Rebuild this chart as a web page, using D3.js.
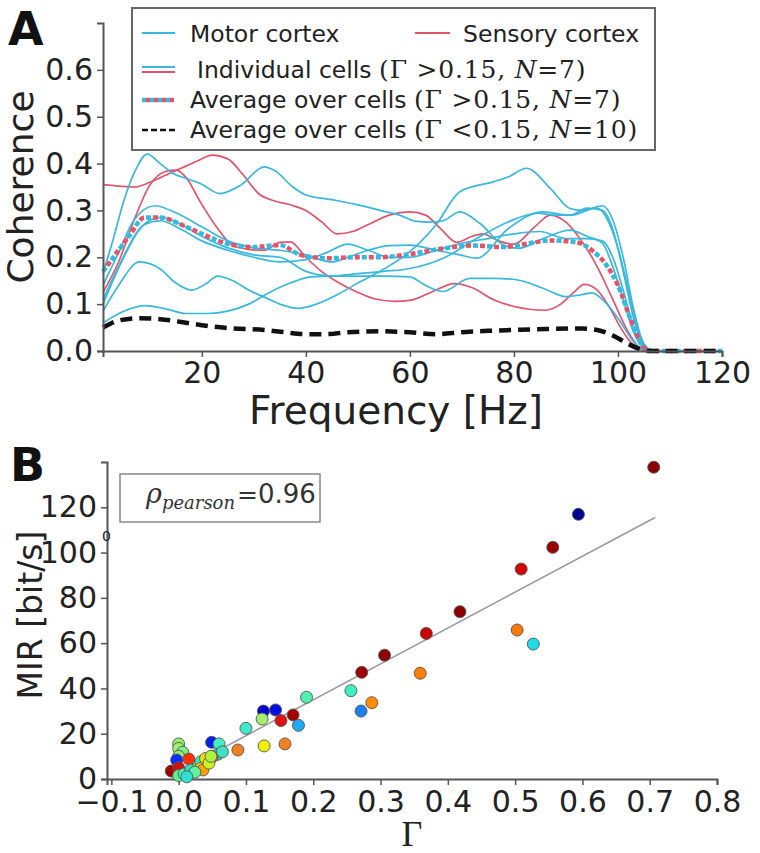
<!DOCTYPE html>
<html><head><meta charset="utf-8">
<script src="https://cdn.jsdelivr.net/npm/d3@7"></script>
<style>body{margin:0;background:#fff}svg{display:block}</style>
</head><body>
<svg id="chart" width="760" height="853"></svg>
<script>
// ---------- Panel A data: coherence vs frequency ([Hz, coherence]) ----------
const freqTicks = [20, 40, 60, 80, 100, 120];
const cohTicks = [0.0, 0.1, 0.2, 0.3, 0.4, 0.5, 0.6];

const motorCell1 = [[1,0.165],[3,0.24],[5,0.32],[7,0.38],[9.5,0.42],[12,0.4],[14.5,0.379],[17,0.368],[19.6,0.358],[23.5,0.336],[27.5,0.354],[32,0.393],[34,0.385],[37.5,0.35],[40,0.333],[45,0.323],[50,0.312],[55,0.298],[58,0.29],[61,0.277],[64,0.275],[66.4,0.278],[69.6,0.297],[73.5,0.272],[78,0.226],[81,0.219],[85.6,0.24],[90.8,0.258],[94,0.245],[97,0.23],[99,0.18],[101,0.11],[103,0.04],[105,0.005],[107,0],[120,0]];
const motorCell2 = [[1,0.085],[4,0.14],[8,0.19],[12,0.175],[15,0.145],[18,0.13],[21,0.145],[23,0.16],[26,0.15],[29,0.13],[32,0.115],[35,0.1],[38.5,0.091],[42,0.1],[46,0.12],[50,0.145],[55,0.175],[60,0.212],[65,0.269],[69.6,0.34],[76,0.361],[79,0.372],[82.4,0.39],[87,0.347],[90.8,0.304],[93,0.3],[96,0.305],[98,0.28],[100,0.22],[102,0.13],[104,0.04],[106,0.003],[108,0],[120,0]];
const motorCell3 = [[1,0.14],[4,0.21],[7,0.28],[11,0.31],[15,0.295],[20,0.265],[25,0.235],[30,0.22],[35,0.215],[40,0.205],[45,0.19],[48,0.2],[52,0.215],[56,0.225],[60,0.226],[65,0.215],[69.6,0.205],[72.8,0.198],[79,0.262],[85.6,0.297],[90.8,0.29],[94,0.305],[97,0.3],[99,0.26],[101,0.17],[103,0.07],[105,0.01],[107,0],[120,0]];
const motorCell4 = [[1,0.11],[4,0.18],[8,0.26],[12,0.285],[16,0.27],[20,0.245],[25,0.22],[30,0.205],[35,0.2],[40,0.17],[45,0.16],[50,0.165],[55,0.17],[60,0.176],[66.4,0.198],[72.8,0.24],[79,0.276],[84.4,0.294],[88,0.29],[91,0.29],[94,0.3],[97,0.31],[99,0.28],[101,0.2],[103,0.09],[105,0.015],[107,0],[120,0]];
const motorCell5 = [[1,0.1],[5,0.2],[9,0.27],[12,0.278],[16,0.26],[20,0.235],[25,0.215],[30,0.2],[35,0.19],[40,0.195],[44,0.21],[48,0.228],[52,0.215],[56,0.2],[60,0.2],[65,0.215],[70,0.23],[75,0.24],[80,0.25],[85,0.255],[90,0.24],[94,0.24],[97,0.235],[99,0.2],[101,0.13],[103,0.05],[105,0.008],[107,0],[120,0]];
const motorCell6 = [[1,0.06],[5,0.085],[9,0.097],[13,0.09],[17,0.08],[21,0.08],[25,0.085],[29,0.1],[33,0.125],[37,0.145],[41,0.158],[45,0.16],[50,0.16],[55,0.16],[60,0.158],[63,0.14],[66.4,0.127],[71.5,0.155],[76,0.155],[80.5,0.152],[85.6,0.134],[90,0.116],[93,0.12],[95,0.124],[97,0.11],[100,0.07],[103,0.02],[105,0.002],[107,0],[120,0]];
const sensoryCell1 = [[1,0.355],[4,0.352],[7,0.35],[10,0.36],[13,0.375],[16,0.39],[19,0.405],[22,0.418],[25,0.41],[28,0.375],[31,0.335],[34,0.32],[37,0.312],[40,0.3],[43,0.276],[46,0.25],[49,0.255],[52,0.27],[56,0.29],[60,0.297],[63,0.29],[66,0.26],[69,0.232],[72,0.245],[74,0.25],[77,0.235],[80,0.228],[84,0.265],[87,0.29],[90,0.275],[93,0.235],[96,0.18],[99,0.11],[102,0.04],[104.5,0.005],[107,0],[120,0]];
const sensoryCell2 = [[1,0.125],[4,0.19],[7,0.28],[10,0.354],[13,0.383],[15,0.386],[17,0.37],[19.6,0.32],[23,0.262],[26,0.225],[29,0.217],[32,0.215],[35,0.232],[37,0.233],[40,0.2],[43,0.17],[46,0.148],[50,0.125],[53,0.112],[57,0.106],[60,0.108],[64,0.125],[68.6,0.144],[72,0.135],[76,0.11],[80,0.095],[86,0.087],[89,0.1],[91.5,0.125],[93.5,0.142],[96,0.13],[98,0.1],[100,0.06],[102,0.025],[104,0.005],[106,0],[120,0]];
const avgHigh = [[1,0.17],[3,0.2],[6,0.245],[9,0.285],[12,0.285],[16,0.27],[20,0.25],[26,0.226],[30,0.222],[35,0.226],[39,0.205],[44,0.198],[50,0.2],[54,0.2],[60,0.207],[66,0.218],[72,0.225],[78,0.222],[83,0.23],[87,0.236],[92,0.232],[95,0.215],[98,0.18],[100,0.14],[102.5,0.066],[105.5,0.003],[107,0],[120,0]];
const avgLow = [[1,0.05],[4,0.065],[8,0.07],[12,0.068],[16,0.062],[20,0.055],[26,0.048],[32,0.045],[36,0.04],[40,0.036],[44,0.036],[48,0.04],[54,0.042],[60,0.04],[65,0.036],[70,0.04],[75,0.043],[80,0.045],[86,0.047],[93,0.048],[96,0.045],[99,0.033],[102,0.015],[104.5,0.003],[106,0],[120,0]];

// ---------- Panel B data: MIR vs Gamma ----------
const gammaTicks = [-0.1, 0.0, 0.1, 0.2, 0.3, 0.4, 0.5, 0.6, 0.7, 0.8];
const mirTicks = [0, 20, 40, 60, 80, 100, 120];
const gammaVals = [0.706,0.594,0.556,0.509,0.418,0.368,0.306,0.503,0.527,0.359,0.272,0.256,0.271,0.287,0.19,0.17,0.152,0.178,0.158,0.144,0.126,0.124,0.127,0.1,0.088,0.049,0.06,0.058,0.05,0.0,0.0,0.006,0.0,-0.003,0.015,-0.011,0.0,0.0,0.008,0.018,0.03,0.033,0.033,0.04,0.036,0.045,0.048,0.024,0.012,0.065];
const mirVals = [137.7,116.9,102.3,92.7,73.9,64.3,54.7,65.8,59.6,46.7,47.1,39.0,30.0,33.7,36.1,28.3,25.8,23.7,15.5,30.5,30.0,26.5,14.6,22.4,12.8,16.2,15.5,10.9,9.8,15.5,13.5,11.8,10.0,8.4,8.8,3.5,5.0,1.5,2.2,4.0,6.0,7.6,4.7,9.1,4.0,7.0,10.0,3.0,1.0,12.0];
const pointColors = ["#8b0000","#00008f","#9a0000","#d40000","#8b0000","#cc0000","#8b0000","#ff7800","#20dce8","#ff8000","#a00000","#40f0c0","#1e7ff0","#ff8c00","#50f0b0","#a00000","#e01010","#20a8f0","#f08020","#0010e0","#0000d0","#a0f070","#f0f000","#40e8c8","#f08020","#0020f0","#40f0c0","#30e0c0","#ff4000","#90f060","#a0f070","#80f080","#90f070","#0030ff","#ff3000","#a00000","#d01010","#60f090","#40f0b0","#30e0c0","#70f080","#40e8c0","#f0e000","#f0e000","#ffa000","#d0f020","#b0f040","#60f0a0","#30e0d0","#40e0c0"];
const fitGamma = [0.0, 0.708];
const fitSlope = 158.5, fitIntercept = 3.3;
const pearson = "0.96";

// ---------- styles ----------
const CYAN = "#38b8dc", RED = "#e2546c", AXIS = "#555", TXT = "#222";
const SANS = "DejaVu Sans, sans-serif", SERIF = "DejaVu Serif, serif";

const svg = d3.select("#chart");

function styleAxis(g){
  g.selectAll(".domain").attr("stroke", AXIS).attr("stroke-width", 2);
  g.selectAll(".tick line").attr("stroke", AXIS).attr("stroke-width", 1.5);
  g.selectAll(".tick text").attr("fill", TXT).attr("font-family", SANS).attr("font-size", 30);
}

// ================= Panel A =================
const xA = d3.scaleLinear().domain([1, 120]).range([103, 722]);
const yA = d3.scaleLinear().domain([0, 0.7]).range([351, 23]);
const lineA = d3.line().x(d => xA(d[0])).y(d => yA(d[1])).curve(d3.curveMonotoneX);

const gA = svg.append("g");
const motor = [motorCell1, motorCell2, motorCell3, motorCell4, motorCell5, motorCell6];
const sensory = [sensoryCell1, sensoryCell2];
sensory.forEach(c => gA.append("path").attr("d", lineA(c)).attr("fill","none").attr("stroke",RED).attr("stroke-width",1.7));
motor.forEach(c => gA.append("path").attr("d", lineA(c)).attr("fill","none").attr("stroke",CYAN).attr("stroke-width",1.7));
gA.append("path").attr("d", lineA(avgHigh)).attr("fill","none").attr("stroke",CYAN).attr("stroke-width",4.5).attr("stroke-dasharray","5,9");
gA.append("path").attr("d", lineA(avgHigh)).attr("fill","none").attr("stroke",RED).attr("stroke-width",4.5).attr("stroke-dasharray","5,9").attr("stroke-dashoffset",7);
gA.append("path").attr("d", lineA(avgLow)).attr("fill","none").attr("stroke","#111").attr("stroke-width",4.5).attr("stroke-dasharray","12,7");

const axAx = svg.append("g").attr("transform","translate(0,351)")
  .call(d3.axisBottom(xA).tickValues(freqTicks).tickSize(6).tickPadding(5).tickFormat(d3.format("d")));
styleAxis(axAx);
const axAy = svg.append("g").attr("transform","translate(103,0)")
  .call(d3.axisLeft(yA).tickValues(cohTicks).tickSize(6).tickPadding(4).tickFormat(d3.format(".1f")));
styleAxis(axAy);

svg.append("text").attr("x", 396).attr("y", 424).attr("text-anchor","middle")
  .attr("font-family",SANS).attr("font-size",39).attr("fill",TXT).text("Frequency [Hz]");
svg.append("text").attr("transform","translate(33,187) rotate(-90)").attr("text-anchor","middle")
  .attr("font-family",SANS).attr("font-size",36).attr("fill",TXT).text("Coherence");
svg.append("text").attr("x", 8).attr("y", 45).attr("font-family",SANS).attr("font-weight","bold")
  .attr("font-size",46).attr("fill","#111").text("A");

// legend
const leg = svg.append("g");
leg.append("rect").attr("x",132).attr("y",8).attr("width",523).attr("height",142)
  .attr("fill","#fff").attr("stroke","#666").attr("stroke-width",2);
function legText(x, y, parts){
  const t = leg.append("text").attr("x",x).attr("y",y).attr("fill",TXT);
  parts.forEach(p => t.append("tspan").attr("font-family", p.serif ? SERIF : SANS)
    .attr("font-size", p.serif ? 25 : 23.5).attr("font-style", p.it ? "italic" : "normal")
    .attr("letter-spacing", p.serif ? 0.8 : 0)
    .attr("xml:space","preserve").text(p.t));
}
leg.append("line").attr("x1",142).attr("x2",175).attr("y1",33).attr("y2",33).attr("stroke",CYAN).attr("stroke-width",1.8);
legText(190, 42, [{t:"Motor cortex"}]);
leg.append("line").attr("x1",415).attr("x2",450).attr("y1",33).attr("y2",33).attr("stroke",RED).attr("stroke-width",1.8);
legText(463, 42, [{t:"Sensory cortex"}]);
leg.append("line").attr("x1",142).attr("x2",175).attr("y1",67).attr("y2",67).attr("stroke",CYAN).attr("stroke-width",1.8);
leg.append("line").attr("x1",142).attr("x2",175).attr("y1",72).attr("y2",72).attr("stroke",RED).attr("stroke-width",1.8);
legText(197, 78, [{t:"Individual cells "},{t:"(Γ >0.15, ",serif:true},{t:"N",serif:true,it:true},{t:"=7)",serif:true}]);
leg.append("line").attr("x1",142).attr("x2",174).attr("y1",100).attr("y2",100).attr("stroke",CYAN).attr("stroke-width",4.5).attr("stroke-dasharray","4,4");
leg.append("line").attr("x1",142).attr("x2",174).attr("y1",100).attr("y2",100).attr("stroke",RED).attr("stroke-width",4.5).attr("stroke-dasharray","4,4").attr("stroke-dashoffset",4);
legText(190, 108, [{t:"Average over cells "},{t:"(Γ >0.15, ",serif:true},{t:"N",serif:true,it:true},{t:"=7)",serif:true}]);
leg.append("line").attr("x1",142).attr("x2",175).attr("y1",130).attr("y2",130).attr("stroke","#111").attr("stroke-width",2.5).attr("stroke-dasharray","6,3");
legText(190, 138, [{t:"Average over cells "},{t:"(Γ <0.15, ",serif:true},{t:"N",serif:true,it:true},{t:"=10)",serif:true}]);

// ================= Panel B =================
const xB = d3.scaleLinear().domain([-0.1065, 0.8]).range([107, 717]);
const yB = d3.scaleLinear().domain([0, 140]).range([779, 462]);

const axBx = svg.append("g").attr("transform","translate(0,779)")
  .call(d3.axisBottom(xB).tickValues(gammaTicks).tickSize(6).tickPadding(6).tickFormat(d3.format(".1f")));
styleAxis(axBx);
const axBy = svg.append("g").attr("transform","translate(107,0)")
  .call(d3.axisLeft(yB).tickValues(mirTicks).tickSize(6).tickPadding(4).tickFormat(d3.format("d")));
styleAxis(axBy);

svg.append("line").attr("x1",xB(fitGamma[0])).attr("y1",yB(fitIntercept+fitSlope*fitGamma[0]))
  .attr("x2",xB(fitGamma[1])).attr("y2",yB(fitIntercept+fitSlope*fitGamma[1]))
  .attr("stroke","#9a9a9a").attr("stroke-width",1.6);

svg.append("g").selectAll("circle").data(gammaVals.map((g,i)=>({g, m:mirVals[i], c:pointColors[i]})))
  .join("circle").attr("cx",d=>xB(d.g)).attr("cy",d=>yB(d.m)).attr("r",6)
  .attr("fill",d=>d.c).attr("stroke","#555").attr("stroke-width",0.9);

svg.append("rect").attr("x",120).attr("y",474).attr("width",200).attr("height",48)
  .attr("fill","#fff").attr("stroke","#888").attr("stroke-width",1.5);
const rt = svg.append("text").attr("x",146).attr("y",503).attr("fill","#333");
rt.append("tspan").attr("font-family",SERIF).attr("font-style","italic").attr("font-size",27).text("ρ");
rt.append("tspan").attr("font-family",SERIF).attr("font-style","italic").attr("font-size",18).attr("dy",6).text("pearson");
rt.append("tspan").attr("font-family",SERIF).attr("font-size",25).attr("dy",-6).attr("dx",2).text("=");
rt.append("tspan").attr("font-family",SANS).attr("font-size",26).text(pearson);

svg.append("text").attr("x",102).attr("y",541).attr("font-family",SANS).attr("font-size",14).attr("fill",TXT).text("0");

svg.append("text").attr("x", 412).attr("y", 846).attr("text-anchor","middle")
  .attr("font-family","Liberation Serif, serif").attr("font-size",36).attr("fill",TXT).text("Γ");
svg.append("text").attr("transform","translate(42,615) rotate(-90)").attr("text-anchor","middle")
  .attr("font-family",SANS).attr("font-size",33).attr("fill",TXT).text("MIR [bit/s]");
svg.append("text").attr("x", 10).attr("y", 481).attr("font-family",SANS).attr("font-weight","bold")
  .attr("font-size",46).attr("fill","#111").text("B");
</script>
</body></html>
